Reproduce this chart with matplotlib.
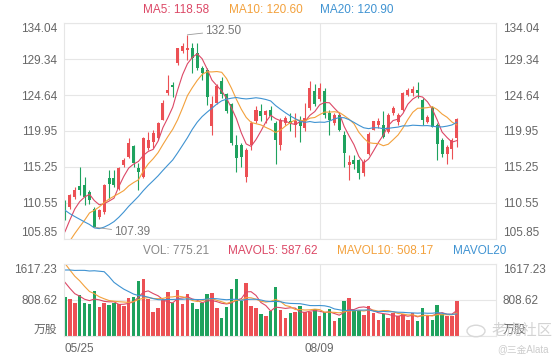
import matplotlib
matplotlib.use('Agg')
import matplotlib.pyplot as plt
import numpy as np
import pandas as pd
from matplotlib.patches import Circle

# 字体: 数字用 Liberation Sans, 中文回退到 Noto Sans CJK SC
plt.rcParams['font.family'] = ['Liberation Sans', 'Noto Sans CJK SC']

# ---- 数据 ----
# 可见窗口之前的收盘价 / 成交量 (只用于计算均线)
pre_close = [120.5, 119.8, 119.2, 118.4, 117.6, 116.4, 111.5, 108.9, 106.8, 104.9,
             103.6, 102.7, 103.4, 102.8, 101.5, 103.9, 105.2, 107.4, 108.35]
pre_vol = [820, 950, 880, 760, 1010, 900, 870, 958, 2900, 3300,
           2300, 2150, 1950, 2000, 1875, 1500, 1350, 1200, 1092]

opens = [110.47, 110.04, 111.35, 112.79, 112.88, 112.00, 109.82, 108.73, 109.38, 113.75,
         113.75, 112.44, 115.49, 116.58, 117.98, 115.06, 113.96, 117.67, 118.55, 118.98,
         121.38, 124.88, 125.97, 128.80, 130.33, 130.55, 130.77, 130.11, 128.15, 127.93,
         120.54, 123.63, 126.49, 124.73, 123.41, 118.12, 118.12, 113.94, 118.12, 121.20,
         122.53, 122.09, 122.75, 120.98, 118.12, 120.98, 121.20, 120.76, 121.42, 120.32,
         122.97, 125.17, 124.07, 125.17, 122.31, 120.98, 122.09, 119.44, 115.50, 116.10,
         116.10, 114.40, 117.00, 120.07, 120.73, 120.73, 119.85, 122.27, 121.17, 122.70,
         124.70, 124.90, 125.30, 124.00, 121.17, 122.90, 120.70, 118.75, 117.00, 117.65,
         118.97]
closes = [109.17, 111.57, 112.31, 112.22, 111.35, 111.00, 107.42, 109.60, 112.88, 113.09,
          112.88, 115.06, 116.15, 118.33, 115.71, 114.62, 118.98, 118.77, 119.64, 121.03,
          123.57, 125.31, 125.75, 130.77, 130.99, 130.77, 129.46, 128.15, 127.50, 124.44,
          123.41, 125.83, 124.73, 122.53, 118.34, 116.36, 116.58, 117.46, 120.98, 122.75,
          121.86, 122.53, 121.86, 118.78, 121.42, 121.64, 120.98, 121.20, 120.54, 121.64,
          125.61, 123.41, 125.61, 122.09, 121.42, 122.09, 120.10, 117.02, 115.90, 115.70,
          114.40, 115.90, 119.60, 121.20, 121.20, 119.20, 122.05, 122.93, 122.05, 124.90,
          125.30, 125.40, 124.90, 121.40, 121.80, 120.50, 118.30, 117.00, 117.90, 118.75,
          121.50]
highs = [110.91, 111.78, 112.66, 115.27, 113.96, 112.20, 110.04, 109.82, 113.09, 114.84,
         114.84, 115.27, 116.37, 118.98, 118.11, 115.71, 119.20, 119.86, 120.07, 121.17,
         124.00, 127.28, 126.40, 130.77, 131.42, 132.50, 131.42, 131.42, 128.37, 128.15,
         124.50, 126.05, 126.93, 124.95, 123.63, 119.44, 118.34, 117.68, 121.20, 123.19,
         123.41, 122.75, 123.19, 121.20, 121.64, 121.86, 122.31, 122.31, 121.86, 123.63,
         126.49, 126.05, 126.27, 125.61, 122.75, 122.31, 122.31, 119.88, 116.80, 116.80,
         116.30, 116.30, 119.85, 121.20, 121.60, 122.50, 122.27, 123.15, 122.27, 125.10,
         125.56, 125.80, 126.40, 124.20, 122.05, 123.15, 120.95, 118.97, 118.10, 118.97,
         121.60]
lows = [108.29, 109.82, 111.13, 111.57, 110.26, 110.39, 107.39, 108.51, 109.17, 111.13,
        112.66, 112.22, 115.27, 116.37, 115.27, 112.22, 113.75, 117.46, 117.67, 118.77,
        121.38, 124.66, 124.44, 128.59, 130.11, 129.24, 127.50, 127.93, 126.62, 123.35,
        119.44, 123.41, 124.29, 122.31, 118.12, 114.60, 115.26, 113.28, 117.46, 120.98,
        121.20, 120.98, 121.42, 115.70, 117.46, 120.76, 119.88, 119.22, 118.56, 119.88,
        122.75, 123.19, 123.85, 121.64, 119.44, 120.76, 119.88, 115.26, 113.60, 115.00,
        113.70, 114.10, 116.80, 120.07, 120.30, 118.97, 119.63, 122.05, 120.73, 122.50,
        124.46, 124.46, 124.20, 120.70, 120.95, 120.50, 116.10, 116.55, 115.70, 116.30,
        117.87]
volumes = [883, 830, 748, 920, 748, 726, 1010, 658, 748, 696,
           733, 710, 680, 845, 883, 1235, 1280, 823, 546, 636,
           808, 995, 733, 1033, 710, 935, 748, 598, 733, 935,
           958, 636, 411, 658, 1055, 1280, 785, 1182, 673, 636,
           486, 448, 561, 1107, 583, 396, 523, 530, 673, 530,
           530, 598, 456, 530, 598, 343, 411, 785, 845, 583,
           583, 471, 673, 523, 358, 486, 396, 523, 456, 486,
           358, 508, 343, 636, 448, 358, 696, 486, 456, 456,
           775.21]

x_labels = ['05/25', '08/09']
x_label_idx = [0, 52]
price_ticks = [105.85, 110.55, 115.25, 119.95, 124.64, 129.34, 134.04]
vol_ticks = [0, 808.62, 1617.23]
vol_tick_labels = ['万股', '808.62', '1617.23']
ma_windows = [5, 10, 20]
ma_texts = ['MA5: 118.58', 'MA10: 120.60', 'MA20: 120.90']
vol_texts = ['VOL: 775.21', 'MAVOL5: 587.62', 'MAVOL10: 508.17', 'MAVOL20']

RED = '#ec5054'
GREEN = '#1ea25e'
MA_COLORS = ['#dc4866', '#f3a13c', '#3f93d2']
GRID = '#e6e6e6'
TXT = '#666666'


def px(x, y):
    # 像素坐标 -> figure 坐标
    return x / 560, 1 - y / 360


def style_axis(ax, ticks, labels):
    ax.set_yticks(ticks)
    ax.set_yticklabels(labels)
    ax.tick_params(axis='y', length=0, labelleft=True, labelright=True,
                   labelsize=8.5, labelcolor=TXT, pad=5)
    ax.grid(axis='y', color=GRID, linewidth=0.8)
    ax.set_axisbelow(True)
    for s in ax.spines.values():
        s.set_color(GRID)
        s.set_linewidth(0.8)
    ticks_obj = ax.yaxis.get_major_ticks()
    for t in [ticks_obj[0].label1, ticks_obj[0].label2]:
        t.set_verticalalignment('bottom')
    for t in [ticks_obj[-1].label1, ticks_obj[-1].label2]:
        t.set_verticalalignment('top')


def main():
    o = np.array(opens)
    c = np.array(closes)
    h = np.array(highs)
    l = np.array(lows)
    v = np.array(volumes)
    n = len(c)
    x = np.arange(n)

    all_close = pd.Series(pre_close + closes)
    all_vol = pd.Series(pre_vol + volumes)

    fig = plt.figure(figsize=(5.6, 3.6), dpi=100)
    l0, r0 = 64 / 560, 496 / 560
    ax = fig.add_axes([l0, 1 - 239 / 360, r0 - l0, (239 - 23) / 360])
    axv = fig.add_axes([l0, 1 - 336 / 360, r0 - l0, (336 - 264) / 360])

    up = c >= o
    colors = np.where(up, RED, GREEN)

    # K线
    ax.vlines(x, l, h, colors=colors, linewidth=0.8)
    body = np.maximum(np.abs(c - o), 0.08)
    ax.bar(x, body, bottom=np.minimum(o, c), width=0.62, color=colors, linewidth=0)

    # 均线
    for w, col in zip(ma_windows, MA_COLORS):
        ma = all_close.rolling(w).mean().values[-n:]
        ax.plot(x, ma, color=col, linewidth=0.8)

    # 最高 / 最低 标注
    imax = int(np.argmax(h))
    imin = int(np.argmin(l))
    ax.annotate(f'{h[imax]:.2f}', xy=(imax, h[imax]), xytext=(18, 4),
                textcoords='offset pixels', fontsize=8.5, color='#777777',
                va='center', arrowprops=dict(arrowstyle='-', color='#999999', lw=0.6,
                                             shrinkA=0, shrinkB=0))
    ax.annotate(f'{l[imin]:.2f}', xy=(imin, l[imin]), xytext=(20, -5),
                textcoords='offset pixels', fontsize=8.5, color='#777777',
                va='center', arrowprops=dict(arrowstyle='-', color='#999999', lw=0.6,
                                             shrinkA=0, shrinkB=0))

    ax.set_xlim(-0.2, 88)
    ax.set_ylim(price_ticks[0], price_ticks[-1])
    style_axis(ax, price_ticks, [f'{t:.2f}' for t in price_ticks])
    ax.set_xticks([])
    ax.axvline(x_label_idx[1], color=GRID, linewidth=0.8, zorder=0)

    # 成交量
    axv.bar(x, v, width=0.72, color=colors, linewidth=0)
    for w, col in zip(ma_windows, MA_COLORS):
        mv = all_vol.rolling(w).mean().values[-n:]
        axv.plot(x, mv, color=col, linewidth=0.8)
    axv.set_xlim(-0.2, 88)
    axv.set_ylim(vol_ticks[0], vol_ticks[-1])
    style_axis(axv, vol_ticks, vol_tick_labels)
    axv.axvline(x_label_idx[1], color=GRID, linewidth=0.8, zorder=0)
    axv.set_xticks(x_label_idx)
    axv.set_xticklabels(x_labels)
    axv.tick_params(axis='x', length=0, labelsize=8.5, labelcolor=TXT, pad=5)
    axv.get_xticklabels()[0].set_horizontalalignment('left')

    # 顶部图例
    for s, col, xx in zip(ma_texts, MA_COLORS, [143, 229, 320]):
        fig.text(*px(xx, 10), s, color=col, fontsize=8.5, va='center')
    for s, col, xx in zip(vol_texts, ['#888888'] + MA_COLORS, [143, 228, 337, 453]):
        fig.text(*px(xx, 251), s, color=col, fontsize=8.5, va='center')

    # 水印
    fig.patches.append(Circle(px(476, 331), 9 / 560, transform=fig.transFigure,
                              fill=False, edgecolor='#d8d8d8', linewidth=1.0))
    fig.text(*px(491, 331), '老虎社区', color='#cfcfcf', fontsize=11, va='center', alpha=0.9)
    fig.text(*px(497, 349), '@三金Alata', color='#cccccc', fontsize=7, va='center')

    fig.savefig('out.png', dpi=100)
    plt.close(fig)


if __name__ == '__main__':
    main()
